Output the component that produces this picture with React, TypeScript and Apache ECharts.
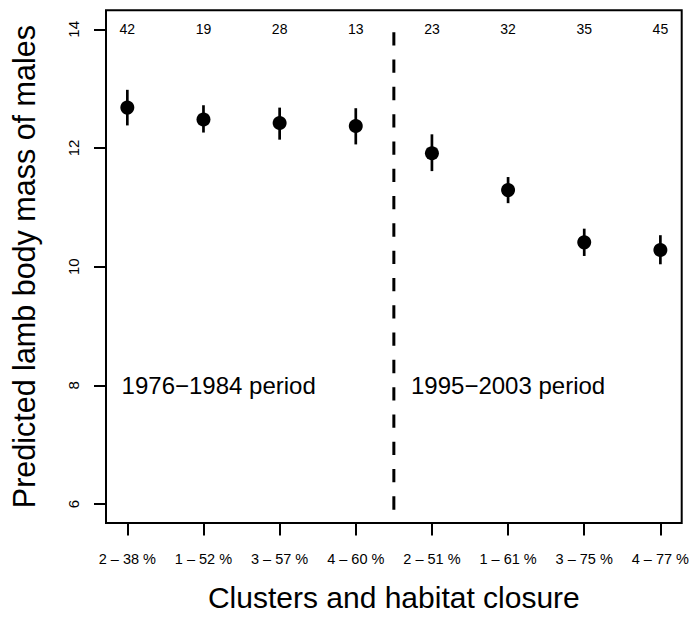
import React, { useEffect, useRef } from "react";
import * as echarts from "echarts";

const clusterLabels = ["2 – 38 %", "1 – 52 %", "3 – 57 %", "4 – 60 %", "2 – 51 %", "1 – 61 %", "3 – 75 %", "4 – 77 %"];
const positions = [1, 2, 3, 4, 5, 6, 7, 8];
const means = [12.68, 12.48, 12.42, 12.37, 11.91, 11.29, 10.41, 10.28];
const lower = [12.38, 12.26, 12.14, 12.06, 11.61, 11.07, 10.18, 10.04];
const upper = [12.98, 12.72, 12.68, 12.67, 12.23, 11.51, 10.64, 10.53];
const sampleSizes = [42, 19, 28, 13, 23, 32, 35, 45];
const sampleSizeY = 14;
const yTicks = [6, 8, 10, 12, 14];
const periodLabels = ["1976−1984 period", "1995−2003 period"];
const periodX = [2.2, 6.0];
const periodY = [8, 8];
const dividerX = 4.5;
const dividerY = [13.95, 5.9];

const FONT = "Liberation Sans, Arial, Helvetica, sans-serif";

export default function App() {
  const ref = useRef<HTMLDivElement>(null);
  useEffect(() => {
    document.body.style.margin = "0";
    const chart = echarts.init(ref.current!, null, { renderer: "svg" });
    chart.setOption({
      animation: false,
      backgroundColor: "#fff",
      textStyle: { fontFamily: FONT, color: "#000" },
      grid: {
        left: 106,
        right: 10,
        top: 10.3,
        bottom: 90.3,
        show: true,
        borderColor: "#000",
        borderWidth: 2,
        backgroundColor: "transparent",
      },
      xAxis: {
        type: "value",
        min: 0.72,
        max: 8.28,
        name: "Clusters and habitat closure",
        nameLocation: "middle",
        nameGap: 59,
        nameTextStyle: { fontSize: 30, color: "#000", fontFamily: FONT },
        splitLine: { show: false },
        axisLine: { show: false },
        axisTick: {
          show: true,
          length: 12.5,
          inside: false,
          customValues: positions,
          lineStyle: { color: "#000", width: 2 },
        },
        axisLabel: {
          customValues: positions,
          margin: 28,
          fontSize: 14.5,
          color: "#000",
          fontFamily: FONT,
          formatter: (v: number) => clusterLabels[Math.round(v) - 1] ?? "",
        },
      },
      yAxis: {
        type: "value",
        min: 5.68,
        max: 14.32,
        name: "Predicted lamb body mass of males",
        nameLocation: "middle",
        nameGap: 67,
        nameTextStyle: { fontSize: 30.5, color: "#000", fontFamily: FONT },
        splitLine: { show: false },
        axisLine: { show: false },
        axisTick: {
          show: true,
          length: 12,
          customValues: yTicks,
          lineStyle: { color: "#000", width: 2 },
        },
        axisLabel: {
          customValues: yTicks,
          rotate: 90,
          margin: 25,
          fontSize: 15,
          color: "#000",
          fontFamily: FONT,
        },
      },
      series: [
        {
          type: "custom",
          data: positions.map((x, i) => [x, lower[i], upper[i]]),
          renderItem: (params: any, api: any) => {
            const p1 = api.coord([api.value(0), api.value(1)]);
            const p2 = api.coord([api.value(0), api.value(2)]);
            return {
              type: "line",
              shape: { x1: p1[0], y1: p1[1], x2: p2[0], y2: p2[1] },
              style: { stroke: "#000", lineWidth: 2.7 },
            };
          },
          z: 2,
        },
        {
          type: "scatter",
          data: positions.map((x, i) => [x, means[i]]),
          symbol: "circle",
          symbolSize: 14,
          itemStyle: { color: "#000", opacity: 1 },
          emphasis: { disabled: true },
          z: 3,
        },
        {
          type: "line",
          data: dividerY.map((y) => [dividerX, y]),
          symbol: "none",
          lineStyle: { color: "#000", width: 3, type: [13.3, 14], cap: "butt" },
          z: 1,
        },
        {
          type: "scatter",
          data: positions.map((x) => [x, sampleSizeY]),
          symbolSize: 0,
          itemStyle: { opacity: 1 },
          emphasis: { disabled: true },
          label: {
            show: true,
            position: "inside",
            fontSize: 14,
            color: "#000",
            fontFamily: FONT,
            formatter: (p: any) => String(sampleSizes[p.dataIndex]),
          },
        },
        {
          type: "scatter",
          data: periodX.map((x, i) => [x, periodY[i]]),
          symbolSize: 0,
          itemStyle: { opacity: 1 },
          emphasis: { disabled: true },
          label: {
            show: true,
            position: "inside",
            fontSize: 24,
            color: "#000",
            fontFamily: FONT,
            formatter: (p: any) => periodLabels[p.dataIndex],
          },
        },
      ],
    });
    return () => chart.dispose();
  }, []);
  return (
    <div
      ref={ref}
      style={{ position: "absolute", left: 0, top: 0, width: 692, height: 617 }}
    />
  );
}
